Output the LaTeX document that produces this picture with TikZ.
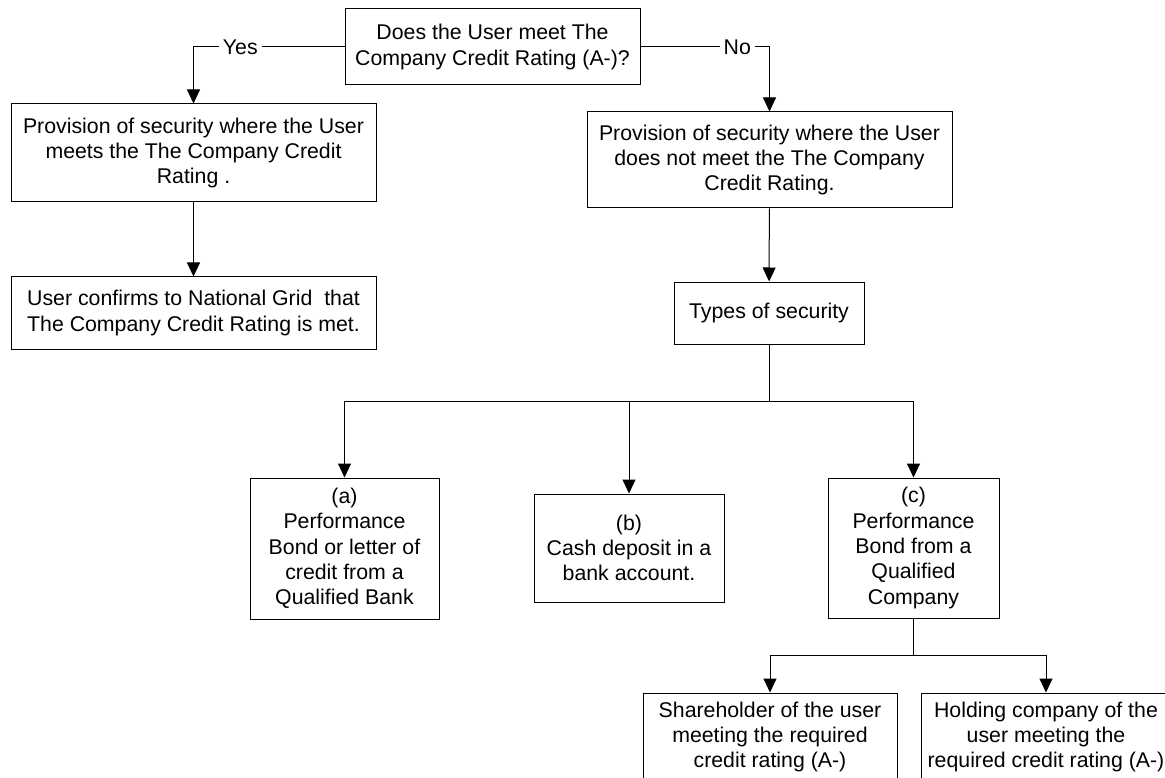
\documentclass[tikz,border=0pt]{standalone}
\usepackage{fontspec}
\setmainfont{Liberation Sans}
\usetikzlibrary{arrows.meta}
\begin{document}
\begin{tikzpicture}[x=1pt, y=-1pt,
  box/.style={draw, line width=1pt, align=center, inner sep=0pt, font=\fontsize{21.3}{25.3}\selectfont},
  arr/.style={-{Triangle[length=14pt,width=13pt]}, line width=1pt},
  lbl/.style={fill=white, inner sep=4pt, font=\fontsize{21.3}{25.3}\selectfont}]
  \useasboundingbox (0,0) rectangle (1165,778);
  \node[box, minimum width=295, minimum height=76] (rating) at (492.5,47) {Does the User meet The\\Company Credit Rating (A-)?};
  \node[box, minimum width=365, minimum height=98] (meets) at (193.5,153) {Provision of security where the User\\meets the The Company Credit\\Rating .};
  \node[box, minimum width=365, minimum height=72] (confirm) at (193.5,313) {User confirms to National Grid\ \ that\\The Company Credit Rating is met.};
  \node[box, minimum width=365, minimum height=96] (notmet) at (769.5,160) {Provision of security where the User\\does not meet the The Company\\Credit Rating.};
  \node[box, minimum width=190, minimum height=62] (types) at (769,313) {Types of security};
  \node[box, minimum width=189, minimum height=141] (bank) at (344.5,548.5) {(a)\\Performance\\Bond or letter of\\credit from a\\Qualified Bank};
  \node[box, minimum width=190, minimum height=108] (cash) at (629,548) {(b)\\Cash deposit in a\\bank account.};
  \node[box, minimum width=171, minimum height=140] (bond) at (913.5,548) {(c)\\Performance\\Bond from a\\Qualified\\Company};
  \node[box, minimum width=254, minimum height=88] (share) at (770,737) {Shareholder of the user\\meeting the required\\credit rating (A-)};
  \node[box, minimum width=250, minimum height=88] (holding) at (1046,737) {Holding company of the\\user meeting the\\required credit rating (A-)};
  \coordinate (split) at (769,401);
  \coordinate (csplit) at (913.5,655);
  % yes / no
  \draw[arr] (rating.west) -| node[lbl, pos=0.345]{Yes} (meets.north);
  \draw[arr] (rating.east) -| node[lbl, pos=0.375]{No} (notmet.north);
  \draw[arr] (meets) -- (confirm);
  \draw[arr] (notmet) -- (types);
  % types of security
  \draw[line width=1pt] (types) -- (split);
  \draw[arr] (split) -| (bank.north);
  \draw[arr] (split) -| (cash.north);
  \draw[arr] (split) -| (bond.north);
  \draw[line width=1pt] (bond) -- (csplit);
  \draw[arr] (csplit) -| (share.north);
  \draw[arr] (csplit) -| (holding.north);
\end{tikzpicture}
\end{document}
